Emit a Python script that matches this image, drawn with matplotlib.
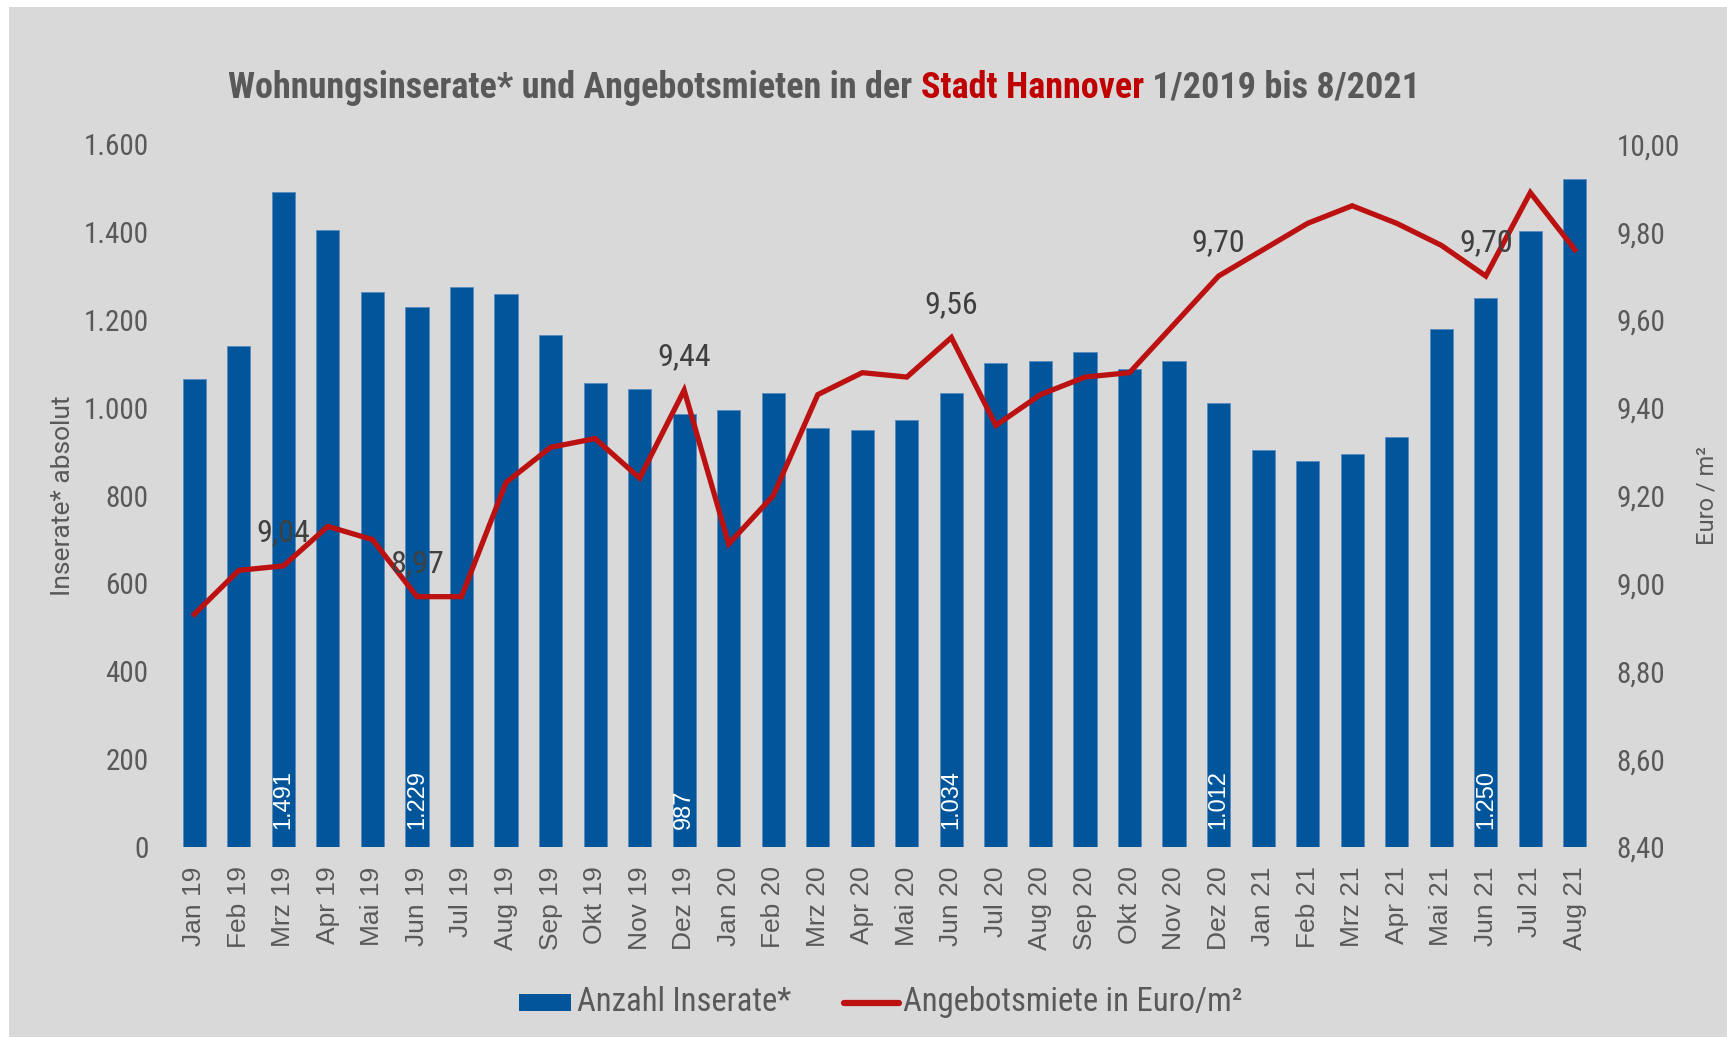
import matplotlib
matplotlib.use("Agg")
import matplotlib.pyplot as plt
from matplotlib.patches import Rectangle
from matplotlib.ticker import FuncFormatter
from matplotlib import font_manager

months = ["Jan 19", "Feb 19", "Mrz 19", "Apr 19", "Mai 19", "Jun 19", "Jul 19", "Aug 19",
          "Sep 19", "Okt 19", "Nov 19", "Dez 19", "Jan 20", "Feb 20", "Mrz 20", "Apr 20",
          "Mai 20", "Jun 20", "Jul 20", "Aug 20", "Sep 20", "Okt 20", "Nov 20", "Dez 20",
          "Jan 21", "Feb 21", "Mrz 21", "Apr 21", "Mai 21", "Jun 21", "Jul 21", "Aug 21"]
inserate = [1066, 1141, 1491, 1404, 1264, 1229, 1276, 1259, 1166, 1056, 1043, 987,
            996, 1033, 955, 950, 973, 1034, 1103, 1106, 1128, 1088, 1106, 1012,
            905, 880, 895, 933, 1179, 1250, 1402, 1522]
miete = [8.93, 9.03, 9.04, 9.13, 9.10, 8.97, 8.97, 9.23, 9.31, 9.33, 9.24, 9.44,
         9.09, 9.20, 9.43, 9.48, 9.47, 9.56, 9.36, 9.43, 9.47, 9.48, 9.59, 9.70,
         9.76, 9.82, 9.86, 9.82, 9.77, 9.70, 9.89, 9.76]
# months that carry value labels in the original chart
bar_labels = [2, 5, 11, 17, 23, 29]
line_labels = [2, 5, 11, 17, 23, 29]

BLUE = "#00559b"
RED = "#bb1111"
GRAY_TXT = "#595959"
BG = "#d9d9d9"

# a condensed face for the Excel-like narrow texts
names = {f.name for f in font_manager.fontManager.ttflist}
narrow_fp = None
for cand in ["Liberation Sans Narrow", "Roboto Condensed", "Open Sans Condensed", "DejaVu Sans"]:
    if cand in names:
        narrow_fp = dict(family=cand, stretch="condensed")
        break


def narrow(**kw):
    d = dict(narrow_fp)
    d.update(kw)
    return font_manager.FontProperties(**d)


def de_int(v, _=None):
    return f"{int(v):,}".replace(",", ".")


def de_dec(v, _=None):
    return f"{v:.2f}".replace(".", ",")


fig = plt.figure(figsize=(17.27, 10.38), dpi=100)
fig.patch.set_facecolor("white")
fig.patches.append(Rectangle((9 / 1727, 1 / 1038), 1 - 9 / 1727, 1 - 8 / 1038,
                             transform=fig.transFigure, facecolor=BG, edgecolor="none", zorder=-10))

ax = fig.add_axes([0.0996, 0.184, 0.8252, 0.677])
ax.set_facecolor("none")
x = list(range(len(months)))
ax.bar(x, inserate, width=0.52, color=BLUE, edgecolor="#5b8cc0", linewidth=0.6, zorder=2)
ax.set_ylim(0, 1600)
ax.set_xlim(-0.5, len(months) - 0.5)
ax.set_yticks(range(0, 1601, 200))
ax.yaxis.set_major_formatter(FuncFormatter(de_int))
ax.set_xticks(x)
ax.set_xticklabels(months, rotation=90, fontsize=19, color=GRAY_TXT, family="Liberation Sans")
for lab in ax.get_yticklabels():
    lab.set_fontproperties(narrow(size=21))
    lab.set_color(GRAY_TXT)
ax.tick_params(axis="both", length=0)
ax.tick_params(axis="y", pad=17)
ax.tick_params(axis="x", pad=14)
for s in ax.spines.values():
    s.set_visible(False)

for i in bar_labels:
    ax.text(i, 40, de_int(inserate[i]), rotation=90, ha="center", va="bottom",
            color="white", fontsize=17, family="Liberation Sans", zorder=3)

ax2 = ax.twinx()
ax2.plot(x, miete, color=RED, linewidth=3.8, solid_joinstyle="miter", zorder=4)
ax2.set_ylim(8.4, 10.0)
ax2.set_yticks([8.4 + 0.2 * k for k in range(9)])
ax2.yaxis.set_major_formatter(FuncFormatter(de_dec))
for lab in ax2.get_yticklabels():
    lab.set_fontproperties(narrow(size=21))
    lab.set_color(GRAY_TXT)
ax2.tick_params(axis="y", length=0, pad=14)
for s in ax2.spines.values():
    s.set_visible(False)

# axis titles placed at their spots in the original
fig.text(63 / 1727, 1 - 496 / 1038, "Inserate* absolut", rotation=90, ha="center", va="center",
         fontsize=19, color=GRAY_TXT, family="Roboto")
fig.text(1707 / 1727, 1 - 496 / 1038, "Euro / m²", rotation=90, ha="center", va="center",
         fontsize=17, color=GRAY_TXT, family="Roboto")

for i in line_labels:
    ax2.annotate(de_dec(miete[i]), (i, miete[i]), xytext=(0, 24), textcoords="offset points",
                 ha="center", va="center", fontproperties=narrow(size=23), color="#404040", zorder=5)

# title with the red city name
title_parts = [("Wohnungsinserate* und Angebotsmieten in der ", GRAY_TXT),
               ("Stadt Hannover", "#c00000"),
               (" 1/2019 bis 8/2021", GRAY_TXT)]
renderer = fig.canvas.get_renderer()
texts = []
for s, c in title_parts:
    t = fig.text(0, 1 - 88 / 1038, s, fontproperties=narrow(size=26, weight="bold"), color=c,
                 va="center", ha="left")
    texts.append(t)
widths = [t.get_window_extent(renderer).width for t in texts]
xpos = 824 - sum(widths) / 2
for t, w in zip(texts, widths):
    t.set_x(xpos / 1727)
    xpos += w

# legend drawn by hand to keep the Excel look
fig.patches.append(Rectangle((519 / 1727, 1 - 1011 / 1038), 52 / 1727, 17 / 1038,
                             transform=fig.transFigure, facecolor=BLUE, edgecolor="none"))
fig.text(577 / 1727, 1 - 1002 / 1038, "Anzahl Inserate*", fontproperties=narrow(size=23.5),
         color=GRAY_TXT, va="center", ha="left")
fig.add_artist(plt.Line2D([844 / 1727, 899 / 1727], [1 - 1003 / 1038, 1 - 1003 / 1038],
                          transform=fig.transFigure, color=RED, linewidth=4.5, solid_capstyle="round"))
fig.text(903 / 1727, 1 - 1002 / 1038, "Angebotsmiete in Euro/m²", fontproperties=narrow(size=23.5),
         color=GRAY_TXT, va="center", ha="left")

fig.savefig("out.png", dpi=100, facecolor=fig.get_facecolor())
